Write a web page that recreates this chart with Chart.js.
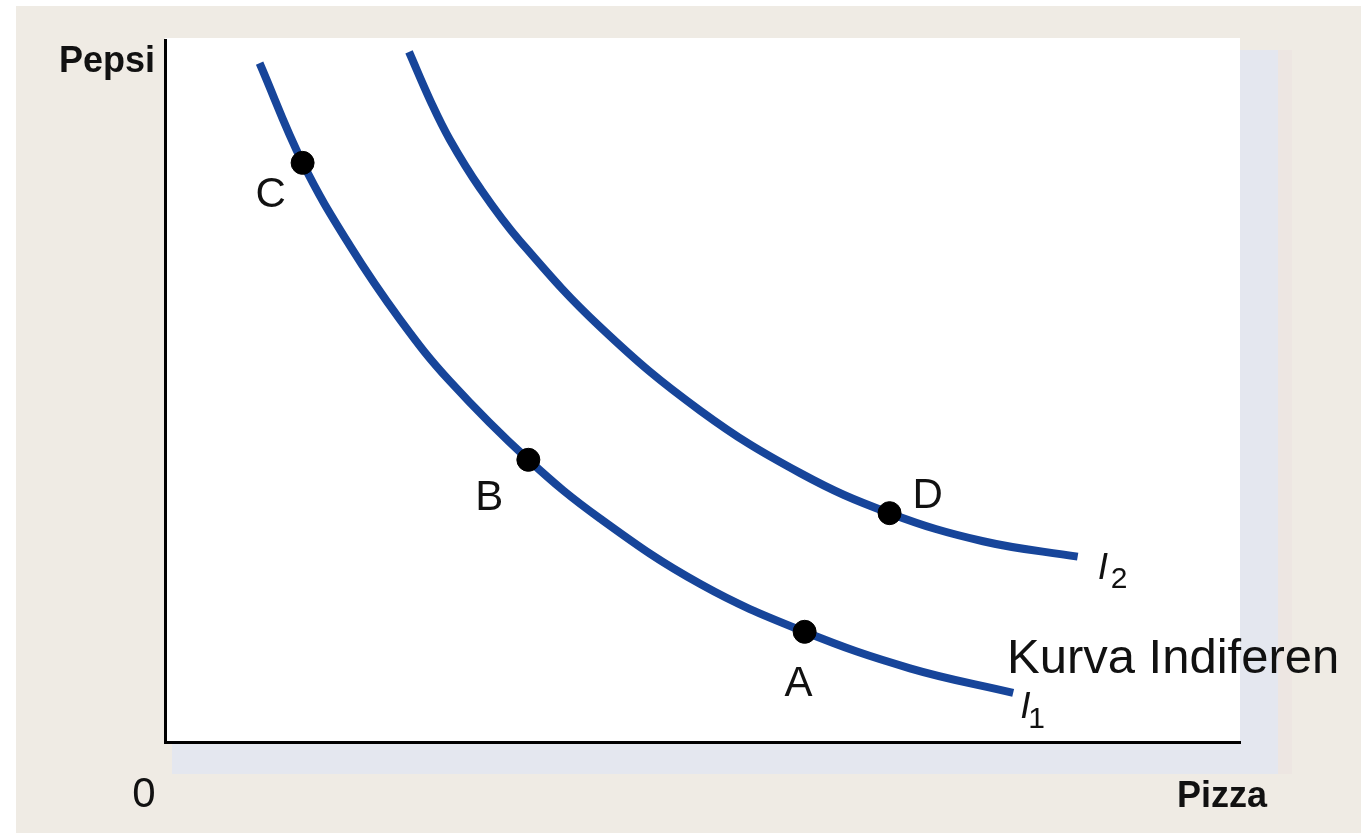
<!DOCTYPE html>
<html>
<head>
<meta charset="utf-8">
<script src="https://cdn.jsdelivr.net/npm/chart.js@4.4.1/dist/chart.umd.min.js"></script>
<style>
  html, body { margin: 0; padding: 0; background: #efebe4; }
  #wrap { width: 1361px; height: 833px; }
</style>
</head>
<body>
<div id="wrap"><canvas id="kurvaChart"></canvas></div>
<script>
// Kurva indiferen I1 (bawah)
const i1X = [8.8, 12.8, 17.2, 21.9, 26.5, 33.8, 40.5, 49.8, 59.5, 69.3, 78.9];
const i1Y = [96.7, 82.5, 70.7, 60.1, 51.4, 40.2, 31.8, 22.5, 15.7, 10.5, 7.0];

// Kurva indiferen I2 (atas)
const i2X = [22.7, 24.7, 26.5, 29.3, 33.0, 40.5, 49.8, 59.1, 67.4, 76.1, 84.9];
const i2Y = [98.3, 91.3, 85.8, 78.9, 71.4, 59.1, 47.2, 38.3, 32.6, 28.6, 26.4];

// titik A, B, C, D
const pointNames = ['A', 'B', 'C', 'D'];
const pointX = [59.5, 33.8, 12.8, 67.4];
const pointY = [15.7, 40.2, 82.5, 32.6];

const curveNames = ['1', '2'];

const toXY = (xs, ys) => xs.map((x, i) => ({ x: x, y: ys[i] }));

const blue = '#17459a';
const font = '"Liberation Sans", Arial, sans-serif';

const drawingPlugin = {
    id: 'drawing',
    beforeDraw(chart) {
        const ctx = chart.ctx;
        const a = chart.chartArea;
        ctx.save();
        ctx.fillStyle = '#efebe4';
        ctx.fillRect(0, 0, chart.width, chart.height);
        ctx.fillStyle = '#ffffff';
        ctx.fillRect(0, 0, chart.width, 6);
        ctx.fillRect(0, 0, 16, chart.height);
        // bayangan di kanan dan bawah
        ctx.fillStyle = '#ede6e2';
        ctx.fillRect(a.right + 38, a.top + 10, 14, a.bottom - a.top + 22);
        ctx.fillStyle = '#e4e7ef';
        ctx.fillRect(a.right, a.top + 10, 38, a.bottom - a.top + 22);
        ctx.fillRect(a.left + 7, a.bottom, a.right - a.left + 31, 32);
        ctx.fillStyle = '#ffffff';
        ctx.fillRect(a.left, a.top - 2, a.right - a.left, a.bottom - a.top + 2);
        ctx.restore();
    },
    afterDraw(chart) {
        const ctx = chart.ctx;
        const xs = chart.scales.x;
        const ys = chart.scales.y;
        ctx.save();
        ctx.fillStyle = '#111111';

        // judul sumbu
        ctx.font = 'bold 36px ' + font;
        ctx.textAlign = 'right';
        ctx.fillText('Pepsi', 155, 72);
        ctx.textAlign = 'left';
        ctx.fillText('Pizza', 1177, 807);
        ctx.font = '42px ' + font;
        ctx.textAlign = 'center';
        ctx.fillText('0', 144, 807);
        ctx.textAlign = 'left';
        ctx.font = '49px ' + font;
        ctx.fillText('Kurva Indiferen', 1007, 673);

        // label titik
        const offsets = { A: [-6, 64], B: [-39, 50], C: [-32, 44], D: [38, -5] };
        ctx.font = '42px ' + font;
        ctx.textAlign = 'center';
        pointNames.forEach((n, i) => {
            const px = xs.getPixelForValue(pointX[i]);
            const py = ys.getPixelForValue(pointY[i]);
            ctx.fillText(n, px + offsets[n][0], py + offsets[n][1]);
        });

        // label kurva I1, I2
        ctx.textAlign = 'left';
        const ends = [
            [i1X[i1X.length - 1], i1Y[i1Y.length - 1], 7, 25, 15, 35],
            [i2X[i2X.length - 1], i2Y[i2Y.length - 1], 20, 22, 33, 31]
        ];
        ends.forEach((e, i) => {
            const px = xs.getPixelForValue(e[0]);
            const py = ys.getPixelForValue(e[1]);
            ctx.font = 'italic 37px ' + font;
            ctx.fillText('I', px + e[2], py + e[3]);
            ctx.font = '30px ' + font;
            ctx.fillText(curveNames[i], px + e[4], py + e[5]);
        });
        ctx.restore();
    }
};

new Chart(document.getElementById('kurvaChart'), {
    type: 'scatter',
    data: {
        datasets: [
            {
                label: 'I1',
                data: toXY(i1X, i1Y),
                showLine: true,
                borderColor: blue,
                borderWidth: 8,
                pointRadius: 0,
                tension: 0.4,
                order: 2
            },
            {
                label: 'I2',
                data: toXY(i2X, i2Y),
                showLine: true,
                borderColor: blue,
                borderWidth: 8,
                pointRadius: 0,
                tension: 0.4,
                order: 2
            },
            {
                label: 'Titik',
                data: toXY(pointX, pointY),
                backgroundColor: '#000000',
                borderColor: '#000000',
                pointRadius: 11.5,
                order: 1
            }
        ]
    },
    options: {
        responsive: true,
        maintainAspectRatio: false,
        animation: false,
        layout: { padding: { left: 165, top: 40, right: 121, bottom: 91 } },
        plugins: {
            legend: { display: false },
            tooltip: { enabled: false }
        },
        scales: {
            x: {
                type: 'linear',
                min: 0,
                max: 100,
                grid: { display: false, drawTicks: false },
                ticks: { display: false },
                border: { display: true, color: '#000000', width: 3 }
            },
            y: {
                type: 'linear',
                min: 0,
                max: 100,
                grid: { display: false, drawTicks: false },
                ticks: { display: false },
                border: { display: true, color: '#000000', width: 3 }
            }
        }
    },
    plugins: [drawingPlugin]
});
</script>
</body>
</html>
